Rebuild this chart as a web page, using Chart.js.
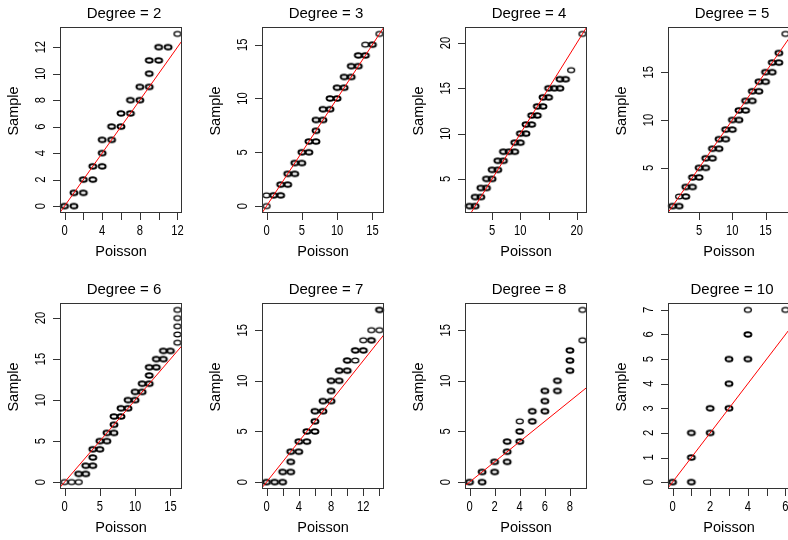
<!DOCTYPE html>
<html>
<head>
<meta charset="utf-8">
<script src="https://cdn.jsdelivr.net/npm/chart.js@4.4.1/dist/chart.umd.min.js"></script>
<style>
    html, body { margin: 0; padding: 0; background: #fff; }
    #wrap { position: relative; width: 788px; height: 540px; overflow: hidden; }
    #wrap canvas { position: absolute; }
</style>
</head>
<body>
<div id="wrap"></div>
<script>
// sample vs poisson quantiles, one pair of arrays per degree (overplotted points / single points)
const xDeg2 = [0, 1, 1, 2, 2, 3, 3, 4, 4, 4, 5, 5, 6, 6, 7, 7, 8, 8, 9, 9, 9, 10, 10, 11];
const yDeg2 = [0, 0, 1, 1, 2, 2, 3, 3, 4, 5, 5, 6, 6, 7, 7, 8, 8, 9, 9, 10, 11, 11, 12, 12];
const xDeg2Single = [12];
const yDeg2Single = [13];

const xDeg3 = [1, 2, 2, 3, 3, 4, 4, 5, 5, 6, 6, 7, 7, 7, 8, 8, 9, 9, 10, 10, 11, 11, 12, 12, 13, 13, 14, 15];
const yDeg3 = [1, 1, 2, 2, 3, 3, 4, 4, 5, 5, 6, 6, 7, 8, 8, 9, 9, 10, 10, 11, 11, 12, 12, 13, 13, 14, 14, 15];
const xDeg3Single = [0, 0, 14, 16];
const yDeg3Single = [0, 1, 15, 16];

const xDeg4 = [1, 2, 2, 3, 3, 4, 4, 5, 5, 6, 6, 7, 7, 8, 9, 9, 10, 10, 11, 11, 12, 12, 13, 13, 14, 14, 15, 15, 16, 17, 17, 18];
const yDeg4 = [2, 2, 3, 3, 4, 4, 5, 5, 6, 6, 7, 7, 8, 8, 8, 9, 9, 10, 10, 11, 11, 12, 12, 13, 13, 14, 14, 15, 15, 15, 16, 16];
const xDeg4Single = [19, 21];
const yDeg4Single = [17, 21];

const xDeg5 = [1, 2, 3, 3, 4, 4, 5, 5, 6, 6, 7, 7, 8, 8, 9, 9, 10, 10, 11, 11, 12, 12, 13, 13, 14, 14, 15, 15, 16, 16, 17, 17];
const yDeg5 = [1, 1, 2, 3, 3, 4, 4, 5, 5, 6, 6, 7, 7, 8, 8, 9, 9, 10, 10, 11, 11, 12, 12, 13, 13, 14, 14, 15, 15, 16, 16, 17];
const xDeg5Single = [2, 18];
const yDeg5Single = [2, 19];

const xDeg6 = [2, 3, 3, 4, 4, 4, 5, 5, 6, 6, 7, 7, 7, 8, 8, 9, 9, 10, 10, 11, 11, 12, 12, 12, 13, 13, 14, 14, 15];
const yDeg6 = [1, 1, 2, 2, 3, 4, 4, 5, 5, 6, 6, 7, 8, 8, 9, 9, 10, 10, 11, 11, 12, 12, 13, 14, 14, 15, 15, 16, 16];
const xDeg6Single = [0, 1, 2, 16, 16, 16, 16, 16];
const yDeg6Single = [0, 0, 0, 17, 18, 19, 20, 21];

const xDeg7 = [0, 1, 2, 2, 3, 3, 3, 4, 4, 5, 5, 6, 6, 6, 7, 7, 8, 8, 8, 9, 9, 10, 10, 11, 12, 13, 14];
const yDeg7 = [0, 0, 0, 1, 1, 2, 3, 3, 4, 4, 5, 5, 6, 7, 7, 8, 8, 9, 10, 10, 11, 11, 12, 13, 13, 14, 17];
const xDeg7Single = [11, 12, 13, 14];
const yDeg7Single = [12, 14, 15, 15];

const xDeg8 = [0, 1, 1, 2, 2, 3, 3, 3, 4, 4, 5, 5, 6, 6, 6, 7, 7, 8, 8, 8];
const yDeg8 = [0, 0, 1, 1, 2, 2, 3, 4, 4, 5, 6, 7, 7, 8, 9, 9, 10, 11, 12, 13];
const xDeg8Single = [4, 9, 9];
const yDeg8Single = [6, 14, 17];

const xDeg10 = [0, 1, 1, 1, 2, 2, 3, 3, 3, 4, 4];
const yDeg10 = [0, 0, 1, 2, 2, 3, 3, 4, 5, 5, 6];
const xDeg10Single = [4, 6];
const yDeg10Single = [7, 7];

// axis ticks (empty label = tick without text, like R drops overlapping labels)
const xTicksDeg2 = [0, 2, 4, 6, 8, 10, 12];
const xLabelsDeg2 = ['0', '', '4', '', '8', '', '12'];
const yTicksDeg2 = [0, 2, 4, 6, 8, 10, 12];
const xTicksDeg3 = [0, 5, 10, 15];
const yTicksDeg3 = [0, 5, 10, 15];
const xTicksDeg4 = [5, 10, 15, 20];
const xLabelsDeg4 = ['5', '10', '', '20'];
const yTicksDeg4 = [5, 10, 15, 20];
const xTicksDeg5 = [5, 10, 15];
const yTicksDeg5 = [5, 10, 15];
const xTicksDeg6 = [0, 5, 10, 15];
const yTicksDeg6 = [0, 5, 10, 15, 20];
const xTicksDeg7 = [0, 2, 4, 6, 8, 10, 12, 14];
const xLabelsDeg7 = ['0', '', '4', '', '8', '', '12', ''];
const yTicksDeg7 = [0, 5, 10, 15];
const xTicksDeg8 = [0, 2, 4, 6, 8];
const yTicksDeg8 = [0, 5, 10, 15];
const xTicksDeg10 = [0, 1, 2, 3, 4, 5, 6];
const xLabelsDeg10 = ['0', '', '2', '', '4', '', '6'];
const yTicksDeg10 = [0, 1, 2, 3, 4, 5, 6, 7];

const panels = [
    {deg: 2, x: xDeg2, y: yDeg2, xs: xDeg2Single, ys: yDeg2Single, xt: xTicksDeg2, xl: xLabelsDeg2, yt: yTicksDeg2},
    {deg: 3, x: xDeg3, y: yDeg3, xs: xDeg3Single, ys: yDeg3Single, xt: xTicksDeg3, yt: yTicksDeg3},
    {deg: 4, x: xDeg4, y: yDeg4, xs: xDeg4Single, ys: yDeg4Single, xt: xTicksDeg4, xl: xLabelsDeg4, yt: yTicksDeg4},
    {deg: 5, x: xDeg5, y: yDeg5, xs: xDeg5Single, ys: yDeg5Single, xt: xTicksDeg5, yt: yTicksDeg5},
    {deg: 6, x: xDeg6, y: yDeg6, xs: xDeg6Single, ys: yDeg6Single, xt: xTicksDeg6, yt: yTicksDeg6},
    {deg: 7, x: xDeg7, y: yDeg7, xs: xDeg7Single, ys: yDeg7Single, xt: xTicksDeg7, xl: xLabelsDeg7, yt: yTicksDeg7},
    {deg: 8, x: xDeg8, y: yDeg8, xs: xDeg8Single, ys: yDeg8Single, xt: xTicksDeg8, yt: yTicksDeg8},
    {deg: 10, x: xDeg10, y: yDeg10, xs: xDeg10Single, ys: yDeg10Single, xt: xTicksDeg10, xl: xLabelsDeg10, yt: yTicksDeg10}
];

const boxLefts = [60, 262, 465, 668];
const boxTops = [27, 303];
const boxW = 122, boxH = 186;
const FONT = '"Liberation Sans", Arial, Helvetica, sans-serif';

function ellipseMarker(lw, colour) {
    const c = document.createElement('canvas');
    c.width = 12;
    c.height = 9;
    const g = c.getContext('2d');
    g.strokeStyle = colour;
    g.lineWidth = lw;
    g.beginPath();
    g.ellipse(6, 4.5, 3.5, 2.3, 0, 0, Math.PI * 2);
    g.stroke();
    return c;
}
const boldMark = ellipseMarker(1.9, '#000');
const thinMark = ellipseMarker(1.25, '#000');

function pairs(xs, ys) {
    return xs.map((v, i) => ({x: v, y: ys[i]}));
}

function limits(a, b) {
    const all = a.concat(b);
    const lo = Math.min(...all), hi = Math.max(...all);
    const ext = (hi - lo) * 0.04;
    return [lo - ext, hi + ext];
}

function narrow(ctx, s, x, y, rot) {
    ctx.save();
    ctx.translate(x, y);
    ctx.rotate(rot);
    ctx.scale(0.8, 1);
    ctx.fillText(s, 0, 0);
    ctx.restore();
}

function framePlugin(p) {
    return {
        id: 'frame',
        afterDraw(chart) {
            const {ctx, chartArea: a} = chart;
            const sx = chart.scales.x, sy = chart.scales.y;
            ctx.save();
            ctx.strokeStyle = '#333';
            ctx.fillStyle = '#000';
            ctx.lineWidth = 1;
            ctx.strokeRect(a.left + 0.5, a.top + 0.5, a.right - a.left - 1, a.bottom - a.top - 1);

            ctx.beginPath();
            p.xt.forEach(v => {
                const px = Math.round(sx.getPixelForValue(v)) + 0.5;
                ctx.moveTo(px, a.bottom);
                ctx.lineTo(px, a.bottom + 7);
            });
            p.yt.forEach(v => {
                const py = Math.round(sy.getPixelForValue(v)) + 0.5;
                ctx.moveTo(a.left, py);
                ctx.lineTo(a.left - 7, py);
            });
            ctx.stroke();

            ctx.font = '14px ' + FONT;
            ctx.textAlign = 'center';
            ctx.textBaseline = 'alphabetic';
            p.xt.forEach((v, i) => {
                const lab = p.xl ? p.xl[i] : String(v);
                if (lab) narrow(ctx, lab, sx.getPixelForValue(v), a.bottom + 22, 0);
            });
            p.yt.forEach(v => {
                narrow(ctx, String(v), a.left - 15, sy.getPixelForValue(v), -Math.PI / 2);
            });

            const mid = (a.left + a.right) / 2;
            ctx.font = '14.5px ' + FONT;
            ctx.fillText('Poisson', mid, a.bottom + 43);
            ctx.save();
            ctx.translate(a.left - 42, (a.top + a.bottom) / 2 - 9);
            ctx.rotate(-Math.PI / 2);
            ctx.fillText('Sample', 0, 0);
            ctx.restore();

            ctx.font = '15px ' + FONT;
            ctx.fillText('Degree = ' + p.deg, mid + 3, a.top - 9);
            ctx.restore();
        }
    };
}

const wrap = document.getElementById('wrap');

panels.forEach((p, k) => {
    const col = k % 4, row = Math.floor(k / 4);
    const canvas = document.createElement('canvas');
    canvas.width = 202;
    canvas.height = 277;
    canvas.style.left = (boxLefts[col] - 60) + 'px';
    canvas.style.top = (boxTops[row] - 27) + 'px';
    wrap.appendChild(canvas);

    const [xMin, xMax] = limits(p.x, p.xs);
    const [yMin, yMax] = limits(p.y, p.ys);

    new Chart(canvas.getContext('2d'), {
        type: 'scatter',
        data: {
            datasets: [
                {
                    // reference line y = x
                    data: [{x: xMin, y: xMin}, {x: xMax, y: xMax}],
                    showLine: true,
                    borderColor: '#ff0000',
                    borderWidth: 1,
                    pointRadius: 0
                },
                {
                    data: pairs(p.x, p.y),
                    pointStyle: boldMark,
                    pointRadius: 4,
                    clip: false
                },
                {
                    data: pairs(p.xs, p.ys),
                    pointStyle: thinMark,
                    pointRadius: 4,
                    clip: false
                }
            ]
        },
        options: {
            responsive: false,
            animation: false,
            events: [],
            layout: {padding: {left: 60, top: 27, right: 202 - 60 - boxW, bottom: 277 - 27 - boxH}},
            scales: {
                x: {type: 'linear', min: xMin, max: xMax, display: false},
                y: {type: 'linear', min: yMin, max: yMax, display: false}
            },
            plugins: {
                legend: {display: false},
                tooltip: {enabled: false}
            }
        },
        plugins: [framePlugin(p)]
    });
});
</script>
</body>
</html>
